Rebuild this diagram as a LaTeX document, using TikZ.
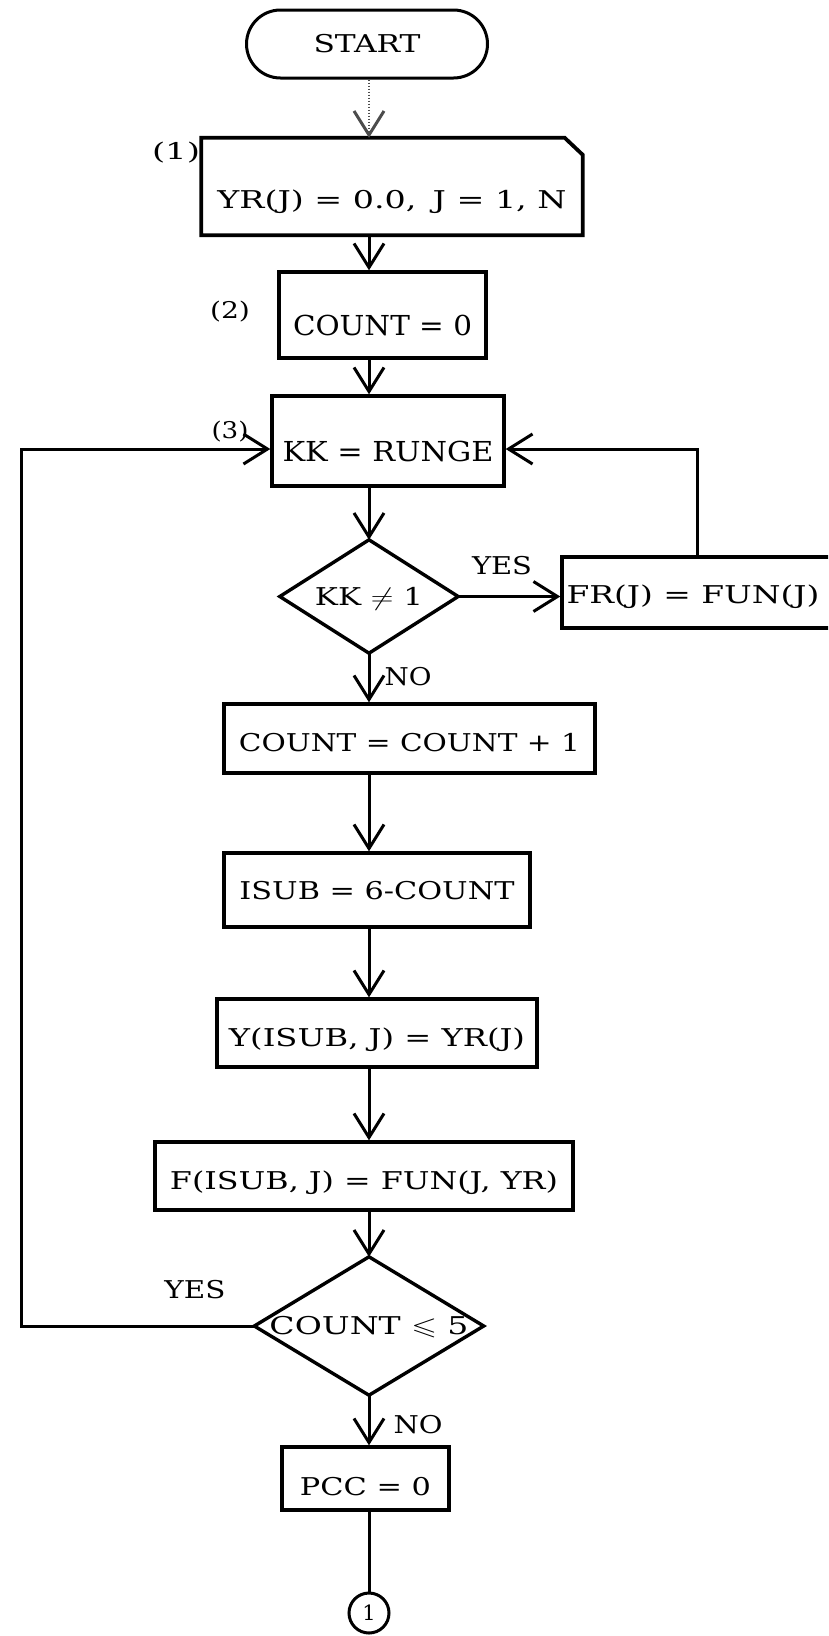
\documentclass[tikz,border=0pt]{standalone}
\usepackage{fontspec}
\usepackage{amssymb}
\setmainfont{DejaVu Serif}
\usetikzlibrary{arrows.meta,shapes.geometric,shapes.misc}
\newcommand{\fw}[2]{\resizebox{#1}{\height}{#2}}
\begin{document}
\begin{tikzpicture}[x=1pt,y=-1pt,
  every node/.style={font=\fontsize{24.5}{28}\selectfont, inner sep=0pt},
  procbox/.style={draw, rectangle, line width=3.4pt},
  tx/.style={text height=#1, text depth=0pt},
  bigfont/.style={font=\fontsize{27.5}{32}\selectfont},
  conn/.style={line width=3pt, -{Straight Barb[length=24pt,width=30pt]}},
  dotconn/.style={line width=1.2pt, dash pattern=on 1.5pt off 1.5pt, black!70,
     -{Straight Barb[length=24pt,width=30pt,line width=3pt]}},
  plain/.style={line width=3pt},
  lbl/.style={font=\fontsize{23}{27}\selectfont},
  decision/.style={rectangle, inner sep=0pt, tx=17.8pt},
  dline/.style={line width=3.4pt, line join=miter},
]
\useasboundingbox (0,0) rectangle (828,1636);
\clip (0,0) rectangle (828,1636);
\coordinate (ax) at (369,0);
\coordinate (lc) at (21,0);
\coordinate (rc) at (697,0);

% nodes
\node[draw, rounded rectangle, line width=3pt, minimum width=241pt, minimum height=68pt, tx=17.8pt]
  (start) at (367,44) {\fw{107pt}{START}};
\node[minimum width=381pt, minimum height=97pt, tx=44pt] (b1) at (392,186.5) {\fw{349pt}{YR(J) = 0.0,\, J = 1, N}};
\node[procbox, bigfont, minimum width=207pt, minimum height=86pt, tx=40pt] (b2) at (382.5,315) {\fw{179pt}{COUNT = 0}};
\node[procbox, bigfont, minimum width=232pt, minimum height=90pt, tx=40pt] (b3) at (388,441) {\fw{211pt}{KK = RUNGE}};
\node[decision, minimum width=178pt, minimum height=113pt] (d1) at (369,596.5) {\fw{108pt}{KK $\neq$ 1}};
\node[procbox, minimum width=300pt, minimum height=71pt, tx=22pt] (fr) at (712,592.5) {\fw{253pt}{FR(J) = FUN(J)}\kern38pt};
\node[procbox, minimum width=371pt, minimum height=69pt, tx=26pt] (b4) at (409.5,738.5) {\fw{341pt}{COUNT = COUNT + 1}};
\node[procbox, minimum width=306pt, minimum height=74pt, tx=18pt] (b5) at (377,890) {\fw{275pt}{ISUB = 6-COUNT}};
\node[procbox, minimum width=320pt, minimum height=68pt, tx=26pt] (b6) at (377,1033) {\fw{296pt}{Y(ISUB, J) = YR(J)}};
\node[procbox, minimum width=418pt, minimum height=68pt, tx=26pt] (b7) at (364,1176) {\fw{388pt}{F(ISUB, J) = FUN(J, YR)}};
\node[decision, minimum width=229pt, minimum height=138pt] (d2) at (369,1326) {\fw{199pt}{COUNT $\leqslant$ 5}};
\node[procbox, minimum width=167pt, minimum height=63pt, tx=34pt] (b8) at (365.5,1478.5) {\fw{131pt}{PCC = 0}};
\node[draw, circle, line width=3pt, minimum size=40pt, font=\fontsize{21}{25}\selectfont] (c1) at (369,1613) {1};

% outlines: box 1 with cut corner, decision diamonds
\draw[line width=3.8pt] (b1.north west) -- ([xshift=-18pt]b1.north east)
  -- ([yshift=-17pt]b1.north east) -- (b1.south east) -- (b1.south west) -- cycle;
\draw[dline] (d1.north) -- (d1.east) -- (d1.south) -- (d1.west) -- cycle;
\draw[dline] (d2.north) -- (d2.east) -- (d2.south) -- (d2.west) -- cycle;

% labels
\node[lbl] (l1) at (176,153) {\fw{48pt}{(1)}};
\node[lbl] (l2) at (230,312) {\fw{40pt}{(2)}};
\node[lbl] (l3) at (230,432) {\fw{37pt}{(3)}};
\node (yes1) at (502,566) {\fw{60pt}{YES}};
\node (no1) at (408,677) {\fw{47pt}{NO}};
\node (yes2) at (195,1290) {\fw{61pt}{YES}};
\node (no2) at (418,1425) {\fw{49pt}{NO}};

% connectors
\draw[dotconn] (start.south -| ax) -- (b1.north -| ax);
\draw[conn] (b1.south -| ax) -- (b2.north -| ax);
\draw[conn] (b2.south -| ax) -- (b3.north -| ax);
\draw[conn] (b3.south -| ax) -- (d1.north);
\draw[conn] (d1.south) -- (b4.north -| d1.south);
\draw[conn] (d1.east) -- (d1.east -| fr.west);
\draw[conn] (fr.north -| rc) |- ([yshift=-8pt]b3.east);
\draw[conn] (b4.south -| ax) -- (b5.north -| ax);
\draw[conn] (b5.south -| ax) -- (b6.north -| ax);
\draw[conn] (b6.south -| ax) -- (b7.north -| ax);
\draw[conn] (b7.south -| ax) -- (d2.north);
\draw[conn] (d2.west) -- (d2.west -| lc) |- ([yshift=-8pt]b3.west);
\draw[conn] (d2.south) -- (b8.north -| d2.south);
\draw[plain] (b8.south -| ax) -- (c1.north);
\end{tikzpicture}
\end{document}
